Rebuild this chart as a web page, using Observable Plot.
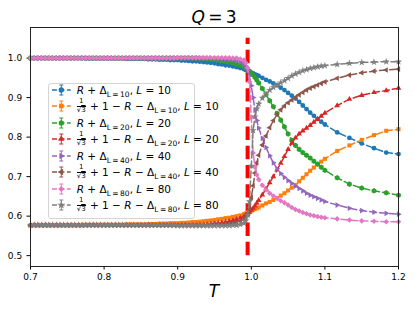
<!DOCTYPE html>
<html><head><meta charset="utf-8">
<script src="https://cdn.jsdelivr.net/npm/d3@7"></script>
<script src="https://cdn.jsdelivr.net/npm/@observablehq/plot@0.6"></script>
<style>
body{margin:0;background:#fff;}
#wrap{position:relative;width:415px;height:311px;font-family:"DejaVu Sans",sans-serif;}
#legend{position:absolute;left:48px;top:83px;width:147px;height:136px;box-sizing:border-box;border:1px solid #d4d4d4;border-radius:3px;background:rgba(255,255,255,0.85);}
.row{position:absolute;left:0;height:16px;width:145px;}
.row svg{position:absolute;left:3px;top:0;}
.lab{position:absolute;left:27.7px;top:0;height:16px;line-height:16px;white-space:nowrap;font-size:10.5px;color:#000;}
.lab sub{font-size:7.5px;vertical-align:-2.5px;line-height:0;}
.frac{display:inline-block;vertical-align:middle;text-align:center;font-size:7px;line-height:7.5px;margin-right:1px;position:relative;top:-1px;}
.frac .num{display:block;border-bottom:0.7px solid #000;padding:0 1px;}
.frac .den{display:block;}
.ov{text-decoration:overline;}
</style>
</head><body>
<div id="wrap"></div>
<script>
// ---------- data ----------
const T = [
0.700,0.705,0.710,0.715,0.720,0.725,0.730,0.735,0.740,0.745,
0.750,0.755,0.760,0.765,0.770,0.775,0.780,0.785,0.790,0.795,
0.800,0.805,0.810,0.815,0.820,0.825,0.830,0.835,0.840,0.845,
0.850,0.855,0.860,0.865,0.870,0.875,0.880,0.885,0.890,0.895,
0.900,0.905,0.910,0.915,0.920,0.925,0.930,0.935,0.940,0.945,
0.950,0.955,0.960,0.965,0.970,0.975,0.980,0.985,0.990,
0.9925,0.995,0.9975,1.000,1.0025,1.005,1.0075,
1.010,1.015,1.020,1.025,1.030,1.035,1.040,1.045,1.050,1.055,1.060,1.065,1.070,1.075,1.080,1.085,1.090,1.095,1.100,
1.1167,1.1333,1.150,1.1667,1.1833,1.200];

// R + Delta_{L=10}
const A10 = [
1.000,1.000,1.000,1.000,1.000,1.000,1.000,1.000,1.000,1.000,
1.000,1.000,1.000,1.000,1.000,0.999,0.999,0.999,0.999,0.999,
0.999,0.999,0.999,0.999,0.999,0.999,0.998,0.998,0.998,0.998,
0.998,0.998,0.997,0.997,0.997,0.996,0.996,0.996,0.995,0.995,
0.995,0.994,0.994,0.993,0.992,0.992,0.991,0.990,0.989,0.988,
0.987,0.985,0.984,0.982,0.981,0.979,0.977,0.975,0.972,
0.970,0.968,0.966,0.963,0.961,0.959,0.957,
0.955,0.950,0.945,0.941,0.936,0.931,0.925,0.919,0.912,0.905,0.898,0.889,0.880,0.871,0.862,0.854,0.846,0.839,0.832,
0.812,0.798,0.784,0.772,0.761,0.757];
// 1/sqrt3 + 1 - R - Delta_{L=10}
const B10 = [
0.577,0.577,0.577,0.577,0.577,0.577,0.577,0.577,0.577,0.577,
0.577,0.577,0.577,0.577,0.577,0.578,0.578,0.578,0.578,0.578,
0.578,0.578,0.578,0.578,0.578,0.578,0.579,0.579,0.579,0.579,
0.579,0.579,0.580,0.580,0.580,0.581,0.581,0.581,0.582,0.582,
0.582,0.583,0.583,0.584,0.585,0.585,0.586,0.587,0.588,0.589,
0.590,0.592,0.593,0.595,0.596,0.598,0.600,0.602,0.605,
0.607,0.609,0.611,0.614,0.616,0.618,0.620,
0.622,0.627,0.632,0.636,0.641,0.646,0.652,0.658,0.665,0.672,0.679,0.688,0.697,0.706,0.715,0.723,0.731,0.738,0.745,
0.765,0.779,0.793,0.805,0.816,0.820];
// R + Delta_{L=20}
const A20 = [
1.000,1.000,1.000,1.000,1.000,1.000,1.000,1.000,1.000,1.000,
1.000,1.000,1.000,1.000,1.000,1.000,1.000,1.000,1.000,1.000,
1.000,1.000,1.000,1.000,1.000,1.000,1.000,1.000,1.000,1.000,
1.000,1.000,1.000,1.000,1.000,1.000,1.000,1.000,1.000,1.000,
1.000,1.000,1.000,1.000,1.000,1.000,0.999,0.999,0.998,0.997,
0.996,0.995,0.994,0.992,0.990,0.988,0.985,0.982,0.978,
0.975,0.972,0.967,0.962,0.957,0.951,0.944,
0.937,0.923,0.908,0.892,0.877,0.860,0.843,0.826,0.808,0.792,0.779,0.769,0.761,0.754,0.747,0.739,0.732,0.724,0.716,
0.697,0.681,0.671,0.664,0.659,0.653];
const B20 = [
0.577,0.577,0.577,0.577,0.577,0.577,0.577,0.577,0.577,0.577,
0.577,0.577,0.577,0.577,0.577,0.577,0.577,0.577,0.577,0.577,
0.577,0.577,0.577,0.577,0.577,0.577,0.577,0.577,0.577,0.577,
0.577,0.577,0.577,0.577,0.577,0.577,0.577,0.577,0.577,0.577,
0.577,0.577,0.577,0.577,0.577,0.577,0.578,0.578,0.579,0.580,
0.581,0.582,0.583,0.585,0.587,0.589,0.592,0.595,0.599,
0.602,0.605,0.610,0.615,0.620,0.626,0.633,
0.640,0.654,0.669,0.685,0.700,0.717,0.734,0.751,0.769,0.785,0.798,0.808,0.816,0.823,0.830,0.838,0.845,0.853,0.861,
0.880,0.896,0.906,0.913,0.918,0.924];
// R + Delta_{L=40}
const A40 = [
1.000,1.000,1.000,1.000,1.000,1.000,1.000,1.000,1.000,1.000,
1.000,1.000,1.000,1.000,1.000,1.000,1.000,1.000,1.000,1.000,
1.000,1.000,1.000,1.000,1.000,1.000,1.000,1.000,1.000,1.000,
1.000,1.000,1.000,1.000,1.000,1.000,1.000,1.000,1.000,1.000,
1.000,1.000,1.000,1.000,1.000,1.000,1.000,1.000,1.000,1.000,
0.999,0.999,0.998,0.997,0.996,0.995,0.993,0.990,0.985,
0.980,0.970,0.955,0.930,0.900,0.868,0.842,
0.823,0.797,0.774,0.753,0.735,0.720,0.708,0.698,0.690,0.683,0.676,0.670,0.664,0.658,0.653,0.649,0.645,0.641,0.637,
0.628,0.620,0.614,0.610,0.607,0.605];
const B40 = [
0.577,0.577,0.577,0.577,0.577,0.577,0.577,0.577,0.577,0.577,
0.577,0.577,0.577,0.577,0.577,0.577,0.577,0.577,0.577,0.577,
0.577,0.577,0.577,0.577,0.577,0.577,0.577,0.577,0.577,0.577,
0.577,0.577,0.577,0.577,0.577,0.577,0.577,0.577,0.577,0.577,
0.577,0.577,0.577,0.577,0.577,0.577,0.577,0.577,0.577,0.577,
0.578,0.578,0.579,0.580,0.581,0.582,0.584,0.587,0.592,
0.597,0.607,0.622,0.647,0.677,0.709,0.735,
0.754,0.780,0.803,0.824,0.842,0.857,0.869,0.879,0.887,0.894,0.901,0.907,0.913,0.919,0.924,0.928,0.932,0.936,0.940,
0.949,0.957,0.963,0.967,0.970,0.972];
// R + Delta_{L=80}
const A80 = [
1.000,1.000,1.000,1.000,1.000,1.000,1.000,1.000,1.000,1.000,
1.000,1.000,1.000,1.000,1.000,1.000,1.000,1.000,1.000,1.000,
1.000,1.000,1.000,1.000,1.000,1.000,1.000,1.000,1.000,1.000,
1.000,1.000,1.000,1.000,1.000,1.000,1.000,1.000,1.000,1.000,
1.001,1.001,1.001,1.001,1.001,1.001,1.001,1.001,1.001,1.001,
1.001,1.001,1.001,1.001,1.001,1.000,1.000,0.998,0.995,
0.988,0.975,0.940,0.850,0.760,0.725,0.705,
0.693,0.678,0.667,0.658,0.651,0.645,0.639,0.634,0.628,0.622,0.617,0.613,0.609,0.606,0.603,0.601,0.599,0.597,0.596,
0.593,0.590,0.588,0.587,0.586,0.586];
const B80 = [
0.577,0.577,0.577,0.577,0.577,0.577,0.577,0.577,0.577,0.577,
0.577,0.577,0.577,0.577,0.577,0.577,0.577,0.577,0.577,0.577,
0.577,0.577,0.577,0.577,0.577,0.577,0.577,0.577,0.577,0.577,
0.577,0.577,0.577,0.577,0.577,0.577,0.577,0.577,0.577,0.577,
0.576,0.576,0.576,0.576,0.576,0.576,0.576,0.576,0.576,0.576,
0.576,0.576,0.576,0.576,0.576,0.577,0.577,0.579,0.582,
0.589,0.602,0.637,0.727,0.817,0.852,0.872,
0.884,0.899,0.910,0.919,0.926,0.932,0.938,0.943,0.949,0.955,0.960,0.964,0.968,0.971,0.974,0.976,0.978,0.980,0.981,
0.984,0.987,0.989,0.990,0.991,0.991];

const Lvalues = [10,10,20,20,40,40,80,80];
const kinds = ["A","B","A","B","A","B","A","B"];
const Tc = 0.995;                 // critical temperature line
const criticalRange = [0.5, 1.05];
const xTicks = [0.7,0.8,0.9,1.0,1.1,1.2];
const yTicks = [0.5,0.6,0.7,0.8,0.9,1.0];
const xLabel = "T";

// ---------- styles ----------
const colors = ["#1f77b4","#ff7f0e","#2ca02c","#d62728","#9467bd","#8c564b","#e377c2","#7f7f7f"];
const symbols = ["circle","square","hexagon","triangle","triangle","triangle","diamond2","star"];
const rotates = [0,0,0,0,90,-90,0,0];
const radii = [2.4,2.3,2.4,2.1,2.1,2.1,2.5,2.3];

const seriesValues = [A10,B10,A20,B20,A40,B40,A80,B80];
seriesValues.forEach((v,k)=>{ if(v.length!==T.length) throw new Error("length mismatch series "+k+": "+v.length); });

const marks = [];
marks.push(Plot.ruleX([{T:Tc, y1:criticalRange[0], y2:criticalRange[1]}],
  {x:"T", y1:"y1", y2:"y2", stroke:"#ff0000", strokeWidth:4, strokeDasharray:"13.4,5.8"}));
seriesValues.forEach((vals,k)=>{
  const rows = T.map((t,i)=>({T:t, v:vals[i]}));
  marks.push(Plot.line(rows,{x:"T",y:"v",stroke:colors[k],strokeWidth:1.5,strokeDasharray:"7,3"}));
  marks.push(Plot.dot(rows,{x:"T",y:"v",symbol:symbols[k],fill:colors[k],stroke:"none",r:radii[k],rotate:rotates[k]}));
});
marks.push(Plot.frame({stroke:"#222", strokeWidth:1}));

const chart = Plot.plot({
  width:415, height:311,
  marginLeft:30, marginRight:17, marginTop:27, marginBottom:45,
  style:{fontFamily:"DejaVu Sans", fontSize:"9px", background:"white", color:"black"},
  x:{domain:[0.7,1.2], ticks:xTicks, tickFormat:d=>d.toFixed(1), tickSize:3.5, tickPadding:3.8, label:null},
  y:{domain:[0.4725,1.0775], ticks:yTicks, tickFormat:d=>d.toFixed(1), tickSize:3.5, tickPadding:4.8, label:null},
  marks
});
const wrap = document.getElementById("wrap");
wrap.appendChild(chart);

// title and axis label
const svg = d3.select(chart);
const tt = svg.append("text").attr("x",214).attr("y",22.7).attr("text-anchor","middle")
  .attr("font-family","DejaVu Sans").attr("font-size",17).attr("fill","#000");
tt.append("tspan").attr("font-style","italic").text("Q");
tt.append("tspan").text("\u2009=\u20093");
svg.append("text").attr("x",214).attr("y",296.7).attr("text-anchor","middle")
  .attr("font-family","DejaVu Sans").attr("font-size",17).attr("font-style","italic").attr("fill","#000").text(xLabel);

// ---------- legend ----------
function symPath(name, r){
  const size = Math.PI*r*r;
  if(name==="hexagon"){
    const R = Math.sqrt(size/(1.5*Math.sqrt(3)));
    const pts = d3.range(6).map(i=>{const a=Math.PI/3*i - Math.PI/2; return [R*Math.cos(a), R*Math.sin(a)];});
    return "M"+pts.map(p=>p.join(",")).join("L")+"Z";
  }
  const map = {circle:d3.symbolCircle, square:d3.symbolSquare, triangle:d3.symbolTriangle, diamond2:d3.symbolDiamond2||d3.symbolDiamond, star:d3.symbolStar};
  return d3.symbol(map[name], size)();
}
function labelHTML(kind, L){
  const sub = `<sub>L\u2009=\u2009${L}</sub>`;
  const tail = `, <i>L</i> = ${L}`;
  if(kind==="A") return `<i>R</i> + \u0394${sub}${tail}`;
  return `<span class="frac"><span class="num">1</span><span class="den">\u221A<span class="ov">3</span></span></span> + 1 \u2212 <i>R</i> \u2212 \u0394${sub}${tail}`;
}
const legend = document.createElement("div");
legend.id = "legend";
wrap.appendChild(legend);
colors.forEach((c,k)=>{
  const row = document.createElement("div");
  row.className = "row";
  row.style.top = (6 + k*16.43 - 8) + "px";
  const h = d3.create("svg").attr("width",22).attr("height",16);
  h.append("line").attr("x1",0).attr("x2",18.7).attr("y1",8).attr("y2",8)
    .attr("stroke",c).attr("stroke-width",1.5).attr("stroke-dasharray","5,2.5");
  h.append("line").attr("x1",9.3).attr("x2",9.3).attr("y1",3).attr("y2",13).attr("stroke",c).attr("stroke-width",1);
  h.append("line").attr("x1",7.3).attr("x2",11.3).attr("y1",3).attr("y2",3).attr("stroke",c).attr("stroke-width",1);
  h.append("line").attr("x1",7.3).attr("x2",11.3).attr("y1",13).attr("y2",13).attr("stroke",c).attr("stroke-width",1);
  h.append("path").attr("d",symPath(symbols[k],radii[k]+0.3)).attr("fill",c)
    .attr("transform",`translate(9.3,8) rotate(${rotates[k]})`);
  row.appendChild(h.node());
  const lab = document.createElement("span");
  lab.className = "lab";
  lab.innerHTML = labelHTML(kinds[k], Lvalues[k]);
  row.appendChild(lab);
  legend.appendChild(row);
});
</script>
</body></html>
